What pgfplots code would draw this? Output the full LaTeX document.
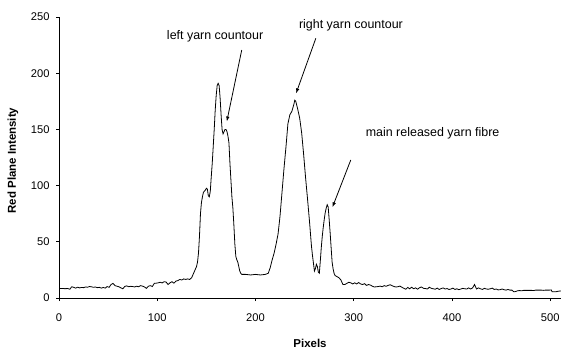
\documentclass[border=0pt]{standalone}
\usepackage{pgfplots}
\pgfplotsset{compat=1.18}
\usepackage{fontspec}
\setmainfont{Liberation Sans}
\usetikzlibrary{arrows.meta}
\pgfplotstableread{
x y
0 8.5
3 8.5
6 8.3
9 8.4
11 7.8
13 10
15 9.5
17 8.8
19 9.6
21 9.0
23 9.4
25 9.2
27 9.8
29 9.6
31 10.2
33 10.0
35 9.5
37 9.8
39 9.2
41 9.5
43 8.8
45 9.4
47 8.8
49 10.2
51 9.5
53 12.0
55 13.0
57 11.0
59 10.5
61 10.0
63 9.0
65 8.2
67 10.3
69 10.8
71 10.0
73 10.4
75 10.2
77 9.8
79 10.5
81 10.0
83 11.0
85 10.6
87 9.8
89 8.6
91 10.5
93 11.0
95 10.2
97 13.0
99 13.2
101 13.5
103 14.0
105 13.4
107 14.5
109 14.2
111 12.0
113 13.5
115 14.5
117 13.2
119 15.0
121 15.5
123 16.5
125 16.0
127 17.0
129 16.5
131 17.0
133 16.5
135 18.0
137 22.0
139 26.0
140 28
141 32
142 40
143 55
144 75
145 85
146 90
147 94
149 96
150 97.6
151 97
152 91
153 90
154 95
155 108
156 120
157 135
158 150
159 167
160 180
161 189
162 191
163 189
164 178
165 163
166 150
167 146
168 148
169 150
170 150
171 148
172 144
173 138
174 120
175 105
176 90
177 80
178 65
179 48
180 37
181 34
182 32
183 28
184 24
185 22
186 21
190 21
195 20.5
200 21
205 20.5
210 21
213 22
215 27
217 34
219 40
221 48
223 57
225 73
227 94
229 115
231 134
233 155
235 163
237 166
239 172
240 176
241 175
243 168
245 160
247 147
249 128
251 107
253 88
255 68
257 46
258 38
259 31
260 24
261 26
262 30
263 28
264 23
265 22
266 33
267 45
268 55
269 63
270 70
271 76
272 80
273 83
274 81
275 70
276 58
277 45
278 32
279 26
280 22
281 20
283 19
285 18
287 16
289 12
291 12
293 13
295 14
297 13.5
299 12.5
301 13.5
303 12.5
305 13.8
307 12.5
309 12.0
311 12.8
313 11.2
315 12.0
317 11.5
319 10.5
321 9.8
323 10.0
325 10.2
327 10.6
329 10.0
331 11.0
333 10.4
335 11.2
337 11.8
339 11.0
341 10.2
343 9.8
345 10.0
347 10.6
349 9.6
351 8.6
353 7.8
355 9.4
357 8.2
359 9.6
361 8.2
363 9.0
365 7.8
367 9.2
369 9.8
371 8.6
373 8.4
375 8.0
377 9.6
379 8.6
381 8.2
383 7.8
385 8.8
387 7.6
389 8.4
391 9.0
393 8.0
395 8.4
397 7.6
399 8.0
401 8.8
403 7.6
405 8.2
407 7.4
409 8.0
411 8.6
413 8.2
415 8.0
417 9.0
419 8.0
421 9.0
423 12.0
425 8.0
427 9.0
429 8.2
431 7.6
433 8.6
435 8.0
437 7.8
439 8.2
441 8.8
443 7.6
445 8.0
447 7.2
449 7.4
451 8.0
453 7.4
455 7.0
457 7.6
459 7.0
461 7.0
463 5.5
465 5.8
467 6.5
469 6.6
471 6.4
473 6.8
475 6.8
477 6.8
479 6.8
481 6.8
483 6.6
485 7.0
487 7.0
489 7.0
491 7.0
493 6.8
495 7.0
497 7.0
499 7.0
501 7.2
502 5.5
504 5.6
506 5.6
508 6.0
510 6.2
511 6.2
}\datatable
\begin{document}
\begin{tikzpicture}
\useasboundingbox (-59bp,-51bp) rectangle (502bp,298bp);
\begin{axis}[
  at={(0,0)}, anchor=origin,
  scale only axis,
  width=502bp, height=281bp,
  xmin=0, xmax=511, ymin=0, ymax=250,
  axis x line*=bottom, axis y line*=left,
  axis line style={line width=0.8pt},
  xtick={0,100,...,500}, ytick={0,50,...,250},
  minor tick num=0,
  tick align=outside,
  major tick length=3bp,
  tick style={line width=0.8pt, black},
  /pgf/number format/assume math mode=true,
  ticklabel style={font=\fontsize{11.2}{13}\selectfont},
  xticklabel style={yshift=-9bp},
  yticklabel style={xshift=-3bp},
  xlabel={Pixels},
  ylabel={Red Plane Intensity},
  label style={font=\fontsize{11.5}{13}\selectfont\bfseries},
  xlabel style={at={(axis description cs:0.5,-0.160)}, anchor=center},
  ylabel style={at={(axis description cs:-0.0916,0.489)}, anchor=center},
  clip=false,
]
\addplot[black, line width=0.8pt, mark=none] table[x=x,y=y] {\datatable};
\node[font=\fontsize{12.5}{14}\selectfont] at (axis cs:158.9,233) {left yarn countour};
\node[font=\fontsize{12.5}{14}\selectfont] at (axis cs:297.2,243) {right yarn countour};
\node[font=\fontsize{12.5}{14}\selectfont] at (axis cs:380.3,146.5) {main released yarn fibre};
\draw[-{Latex[length=5bp,width=3.5bp]}, line width=0.8pt] (axis cs:186,220.6) -- (axis cs:170.8,157);
\draw[-{Latex[length=5bp,width=3.5bp]}, line width=0.8pt] (axis cs:261.4,231) -- (axis cs:241.3,182);
\draw[-{Latex[length=5bp,width=3.5bp]}, line width=0.8pt] (axis cs:297,122.8) -- (axis cs:278.3,80.7);
\end{axis}
\end{tikzpicture}
\end{document}
